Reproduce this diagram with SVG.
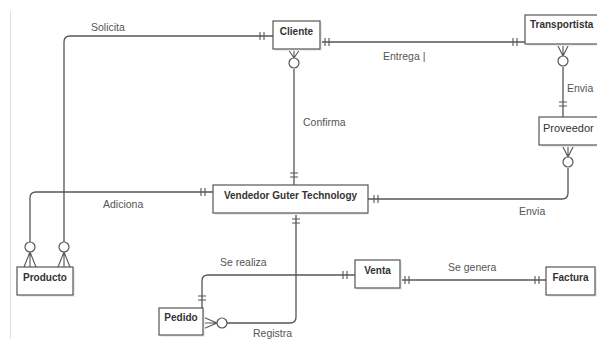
<svg xmlns="http://www.w3.org/2000/svg" width="597" height="339" viewBox="0 0 597 339">
<style>
.bg{fill:#ffffff}
.ent rect.box{fill:#ffffff;stroke:#555555;stroke-width:1.2}
.ent rect.sh{fill:#ececec;stroke:none}
.ent text{font-family:"Liberation Sans",Arial,sans-serif;font-size:10px;font-weight:bold;fill:#333333}
.ln{fill:none;stroke:#555555;stroke-width:1.3}
.ck{fill:none;stroke:#555555;stroke-width:1.1}
.ci{fill:#ffffff;stroke:#555555;stroke-width:1.2}
.lbl{font-family:"Liberation Sans",Arial,sans-serif;font-size:10.5px;fill:#555555}
</style>
<rect class="bg" x="0" y="0" width="597" height="339"/>
<line x1="10.5" y1="11" x2="10.5" y2="339" stroke="#dddddd" stroke-width="1"/>

<g id="connectors">
  <!-- Solicita: Producto -> Cliente -->
  <path class="ln" d="M64,242 V42 Q64,36 70,36 H273"/>
  <path class="ck" d="M260,32 V40 M264,32 V40"/>
  <circle class="ci" cx="64" cy="247" r="5"/>
  <path class="ck" d="M64,252 L58,267 M64,252 V267 M64,252 L70,267"/>
  <!-- Entrega: Cliente -> Transportista -->
  <path class="ln" d="M320,42 H525"/>
  <path class="ck" d="M325,38 V46 M329,38 V46 M513,38 V46 M517,38 V46"/>
  <!-- Confirma: Cliente -> Vendedor -->
  <path class="ln" d="M294,69 V185"/>
  <path class="ck" d="M288,49 L294,58 M294,49 V58 M300,49 L294,58"/>
  <circle class="ci" cx="294" cy="63" r="5"/>
  <path class="ck" d="M290,173 H298 M290,177 H298"/>
  <!-- Envia: Transportista -> Proveedor -->
  <path class="ln" d="M563,67 V117"/>
  <path class="ck" d="M557,44 L563,56 M563,44 V56 M569,44 L563,56"/>
  <circle class="ci" cx="563" cy="61" r="5"/>
  <path class="ck" d="M559,102 H567 M559,106 H567"/>
  <!-- Envia: Proveedor -> Vendedor -->
  <path class="ln" d="M568,168 V193 Q568,199 562,199 H368"/>
  <path class="ck" d="M562,145 L568,157 M568,145 V157 M574,145 L568,157"/>
  <circle class="ci" cx="568" cy="162" r="5"/>
  <path class="ck" d="M374,195 V203 M378,195 V203"/>
  <!-- Adiciona: Vendedor -> Producto -->
  <path class="ln" d="M213,192 H36 Q30,192 30,198 V242"/>
  <path class="ck" d="M201,188 V196 M205,188 V196"/>
  <circle class="ci" cx="30" cy="247" r="5"/>
  <path class="ck" d="M30,252 L24,267 M30,252 V267 M30,252 L36,267"/>
  <!-- Registra: Vendedor -> Pedido -->
  <path class="ln" d="M296,213 V317 Q296,323 290,323 H227"/>
  <path class="ck" d="M292,219 H300 M292,223 H300"/>
  <circle class="ci" cx="222" cy="323" r="5"/>
  <path class="ck" d="M217,323 L203,317 M217,323 H203 M217,323 L203,329"/>
  <!-- Se realiza: Pedido -> Venta -->
  <path class="ln" d="M202,308 V281 Q202,275 208,275 H355"/>
  <path class="ck" d="M198,296 H206 M198,300 H206 M343,271 V279 M347,271 V279"/>
  <!-- Se genera: Venta -> Factura -->
  <path class="ln" d="M400,280 H546"/>
  <path class="ck" d="M405,276 V284 M409,276 V284 M535,276 V284 M539,276 V284"/>
</g>

<g id="labels">
  <text class="lbl" x="91" y="31">Solicita</text>
  <text class="lbl" x="383" y="60">Entrega |</text>
  <text class="lbl" x="303" y="126">Confirma</text>
  <text class="lbl" x="567" y="92">Envia</text>
  <text class="lbl" x="103" y="208">Adiciona</text>
  <text class="lbl" x="519" y="215">Envia</text>
  <text class="lbl" x="220" y="266">Se realiza</text>
  <text class="lbl" x="253" y="337">Registra</text>
  <text class="lbl" x="448" y="271">Se genera</text>
</g>

<g id="cliente" class="ent">
  <rect class="sh" x="275" y="23" width="47" height="28"/>
  <rect class="box" x="273" y="21" width="47" height="28"/>
  <text x="296.5" y="35" text-anchor="middle">Cliente</text>
</g>
<g id="transportista" class="ent">
  <rect class="sh" x="527" y="17" width="90" height="29"/>
  <rect class="box" x="525" y="15" width="90" height="29"/>
  <text x="530" y="28">Transportista</text>
</g>
<g id="proveedor" class="ent">
  <rect class="sh" x="541" y="119" width="80" height="28"/>
  <rect class="box" x="539" y="117" width="80" height="28"/>
  <text x="543" y="132" style="font-weight:normal;font-size:11px">Proveedor</text>
</g>
<g id="vendedor" class="ent">
  <rect class="sh" x="215" y="187" width="153" height="28"/>
  <rect class="box" x="213" y="185" width="155" height="28"/>
  <text x="290.5" y="199" text-anchor="middle">Vendedor Guter Technology</text>
</g>
<g id="producto" class="ent">
  <rect class="sh" x="19" y="269" width="56" height="28"/>
  <rect class="box" x="17" y="267" width="56" height="28"/>
  <text x="45" y="281" text-anchor="middle">Producto</text>
</g>
<g id="pedido" class="ent">
  <rect class="sh" x="161" y="310" width="44" height="27"/>
  <rect class="box" x="159" y="308" width="44" height="27"/>
  <text x="181" y="321" text-anchor="middle">Pedido</text>
</g>
<g id="venta" class="ent">
  <rect class="sh" x="357" y="262" width="45" height="28"/>
  <rect class="box" x="355" y="260" width="45" height="28"/>
  <text x="377.5" y="274" text-anchor="middle">Venta</text>
</g>
<g id="factura" class="ent">
  <rect class="sh" x="548" y="269" width="49" height="28"/>
  <rect class="box" x="546" y="267" width="49" height="28"/>
  <text x="570.5" y="281" text-anchor="middle">Factura</text>
</g>
</svg>
